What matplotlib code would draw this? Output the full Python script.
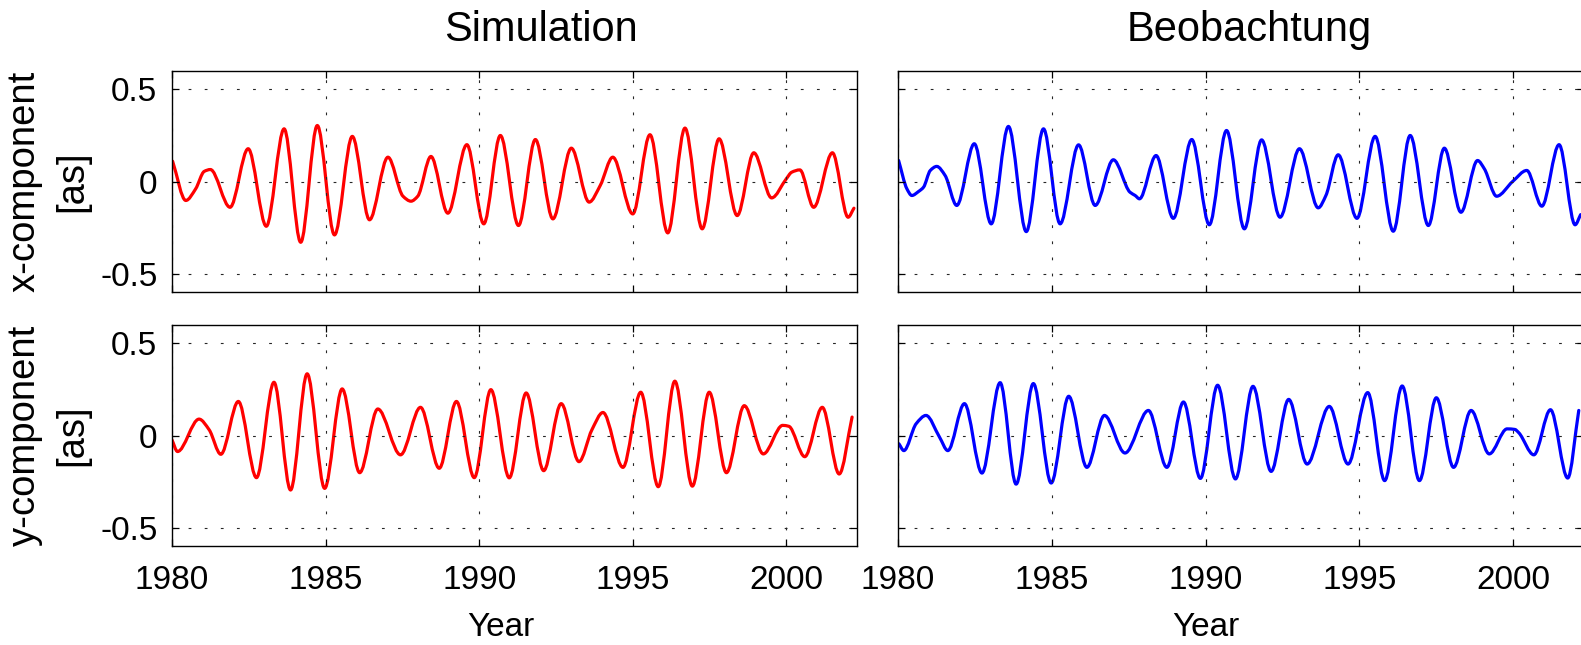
import numpy as np
import matplotlib
matplotlib.use("Agg")
import matplotlib.pyplot as plt
from matplotlib.path import Path
from matplotlib.patches import PathPatch

# ---------------- data (extrema / shoulder points) ----------------
sim_x_t = [1980.02, 1980.45, 1980.77, 1981.05, 1981.25, 1981.89, 1982.48, 1983.07, 1983.65, 1984.19,
           1984.73, 1985.29, 1985.87, 1986.43, 1987.03, 1987.52, 1987.78, 1988.00, 1988.43, 1988.98,
           1989.60, 1990.15, 1990.69, 1991.28, 1991.83, 1992.40, 1993.00, 1993.58, 1993.94, 1994.35,
           1995.00, 1995.56, 1996.14, 1996.70, 1997.26, 1997.81, 1998.40, 1998.94, 1999.52, 2000.00,
           2000.17, 2000.44, 2000.89, 2001.50, 2002.01, 2002.20]
sim_x_v = [0.110, -0.103, -0.040, 0.055, 0.065, -0.140, 0.178, -0.243, 0.286, -0.330,
           0.304, -0.290, 0.245, -0.208, 0.132, -0.080, -0.107, -0.080, 0.136, -0.172,
           0.200, -0.230, 0.250, -0.239, 0.228, -0.203, 0.181, -0.112, -0.022, 0.132,
           -0.176, 0.254, -0.279, 0.290, -0.257, 0.232, -0.185, 0.156, -0.089, 0.015,
           0.050, 0.063, -0.140, 0.156, -0.194, -0.145]

sim_y_t = [1980.00, 1980.18, 1980.88, 1981.21, 1981.59, 1982.16, 1982.75, 1983.32, 1983.86, 1984.40,
           1984.97, 1985.54, 1986.11, 1986.70, 1987.44, 1988.09, 1988.70, 1989.26, 1989.84, 1990.38,
           1990.98, 1991.53, 1992.10, 1992.67, 1993.25, 1993.67, 1994.03, 1994.68, 1995.26, 1995.83,
           1996.37, 1996.94, 1997.49, 1998.05, 1998.63, 1999.25, 1999.88, 2000.08, 2000.60, 2001.17,
           2001.72, 2002.14]
sim_y_v = [-0.024, -0.087, 0.089, 0.031, -0.102, 0.185, -0.229, 0.289, -0.296, 0.335,
           -0.287, 0.253, -0.202, 0.144, -0.105, 0.153, -0.178, 0.185, -0.229, 0.249,
           -0.230, 0.231, -0.191, 0.173, -0.142, 0.031, 0.125, -0.173, 0.235, -0.278,
           0.295, -0.275, 0.235, -0.202, 0.162, -0.100, 0.055, 0.050, -0.115, 0.153,
           -0.209, 0.100]

obs_x_t = [1980.02, 1980.29, 1980.45, 1980.67, 1980.83, 1981.05, 1981.26, 1981.53, 1981.91, 1982.48,
           1983.03, 1983.59, 1984.17, 1984.73, 1985.27, 1985.87, 1986.41, 1987.00, 1987.54, 1987.71,
           1987.85, 1988.39, 1988.95, 1989.55, 1990.12, 1990.68, 1991.26, 1991.82, 1992.42, 1993.05,
           1993.66, 1993.91, 1994.31, 1994.92, 1995.51, 1996.10, 1996.65, 1997.24, 1997.76, 1998.30,
           1998.84, 1999.06, 1999.46, 1999.98, 2000.44, 2000.93, 2001.49, 2002.01, 2002.19]
obs_x_v = [0.114, -0.040, -0.076, -0.054, -0.031, 0.060, 0.082, 0.033, -0.130, 0.205,
           -0.230, 0.299, -0.272, 0.286, -0.230, 0.199, -0.130, 0.118, -0.058, -0.076,
           -0.094, 0.141, -0.200, 0.228, -0.235, 0.277, -0.257, 0.226, -0.194, 0.178,
           -0.143, -0.076, 0.145, -0.200, 0.245, -0.270, 0.250, -0.239, 0.181, -0.167,
           0.114, 0.069, -0.080, 0.000, 0.060, -0.134, 0.200, -0.235, -0.180]

obs_y_t = [1980.03, 1980.19, 1980.59, 1980.91, 1981.35, 1981.62, 1982.16, 1982.73, 1983.32, 1983.84,
           1984.40, 1984.98, 1985.55, 1986.14, 1986.71, 1987.38, 1988.14, 1988.74, 1989.28, 1989.83,
           1990.39, 1990.97, 1991.54, 1992.13, 1992.70, 1993.30, 1994.02, 1994.63, 1995.27, 1995.82,
           1996.39, 1996.95, 1997.50, 1998.06, 1998.63, 1999.22, 1999.80, 2000.05, 2000.18, 2000.67,
           2001.21, 2001.77, 2002.13]
obs_y_v = [-0.045, -0.082, 0.064, 0.109, -0.009, -0.082, 0.173, -0.204, 0.287, -0.264,
           0.282, -0.258, 0.213, -0.173, 0.109, -0.095, 0.136, -0.173, 0.182, -0.233,
           0.273, -0.236, 0.267, -0.195, 0.196, -0.155, 0.158, -0.155, 0.233, -0.245,
           0.269, -0.245, 0.205, -0.173, 0.136, -0.100, 0.036, 0.033, 0.015, -0.105,
           0.140, -0.231, 0.136]

x_ticks = [1980, 1985, 1990, 1995, 2000]
y_ticks = [-0.5, 0, 0.5]
y_tick_labels = ["-0.5", "0", "0.5"]
col_titles = ["Simulation", "Beobachtung"]
row_labels = ["x-component\n[as]", "y-component\n[as]"]
x_label = "Year"

# ---------------- styling ----------------
plt.rcParams["font.family"] = ["Liberation Sans", "DejaVu Sans"]
W, H = 1581, 645
fig = plt.figure(figsize=(W / 100, H / 100), dpi=100)


def smooth_path(t, v):
    """Cubic Bezier path through the read points (flat tangent at extrema)."""
    t = np.asarray(t, float)
    v = np.asarray(v, float)
    h = np.diff(t)
    d = np.diff(v) / h
    m = np.zeros_like(v)
    for k in range(1, len(v) - 1):
        if d[k - 1] * d[k] > 0:
            w1 = 2 * h[k] + h[k - 1]
            w2 = h[k] + 2 * h[k - 1]
            m[k] = (w1 + w2) / (w1 / d[k - 1] + w2 / d[k])
    m[0] = d[0]
    m[-1] = d[-1]
    verts = [(t[0], v[0])]
    codes = [Path.MOVETO]
    for k in range(len(v) - 1):
        hk = h[k]
        verts += [(t[k] + hk / 3, v[k] + m[k] * hk / 3),
                  (t[k + 1] - hk / 3, v[k + 1] - m[k + 1] * hk / 3),
                  (t[k + 1], v[k + 1])]
        codes += [Path.CURVE4] * 3
    return Path(verts, codes)


def px_rect(x0, y0, x1, y1):
    return [x0 / W, 1 - y1 / H, (x1 - x0) / W, (y1 - y0) / H]


rows_px = [(71, 292), (325, 546)]
cols_px = [(172, 857), (898, 1584)]
series = [[(sim_x_t, sim_x_v, "red"), (obs_x_t, obs_x_v, "blue")],
          [(sim_y_t, sim_y_v, "red"), (obs_y_t, obs_y_v, "blue")]]

for r, (y0, y1) in enumerate(rows_px):
    for c, (x0, x1) in enumerate(cols_px):
        ax = fig.add_axes(px_rect(x0, y0, x1, y1))
        t, v, col = series[r][c]
        ax.add_patch(PathPatch(smooth_path(t, v), fill=False, edgecolor=col,
                               lw=2.3, capstyle="round", joinstyle="round"))
        ax.set_xlim(1980, 2002.3)
        ax.set_ylim(-0.6, 0.6)
        ax.set_xticks(x_ticks)
        ax.set_yticks(y_ticks)
        ax.grid(True, color="0.15", linestyle=(0, (2.5, 12)), linewidth=0.8)
        ax.tick_params(direction="in", length=5, width=0.9, top=True, right=True,
                       labelsize=24, colors="black")
        ax.tick_params(axis="y", pad=10.5)
        ax.tick_params(axis="x", pad=14)
        for sp in ax.spines.values():
            sp.set_linewidth(1.0)
        if c == 0:
            ax.set_yticklabels(y_tick_labels)
        else:
            ax.set_yticklabels([])
        if r == 0:
            ax.set_xticklabels([])
        else:
            ax.set_xticklabels([str(x) for x in x_ticks])

# titles
fig.text(541 / W, 1 - 30 / H, col_titles[0], ha="center", va="center", fontsize=30)
fig.text(1249 / W, 1 - 30 / H, col_titles[1], ha="center", va="center", fontsize=30)
# row labels
fig.text(48.5 / W, 1 - 181 / H, row_labels[0], ha="center", va="center", rotation=90,
         fontsize=27.5, multialignment="center", linespacing=1.42)
fig.text(48.5 / W, 1 - 435 / H, row_labels[1], ha="center", va="center", rotation=90,
         fontsize=27.5, multialignment="center", linespacing=1.42)
# x labels
fig.text(501 / W, 1 - 627 / H, x_label, ha="center", va="center", fontsize=24)
fig.text(1206 / W, 1 - 627 / H, x_label, ha="center", va="center", fontsize=24)

fig.savefig("out.png", dpi=100)
